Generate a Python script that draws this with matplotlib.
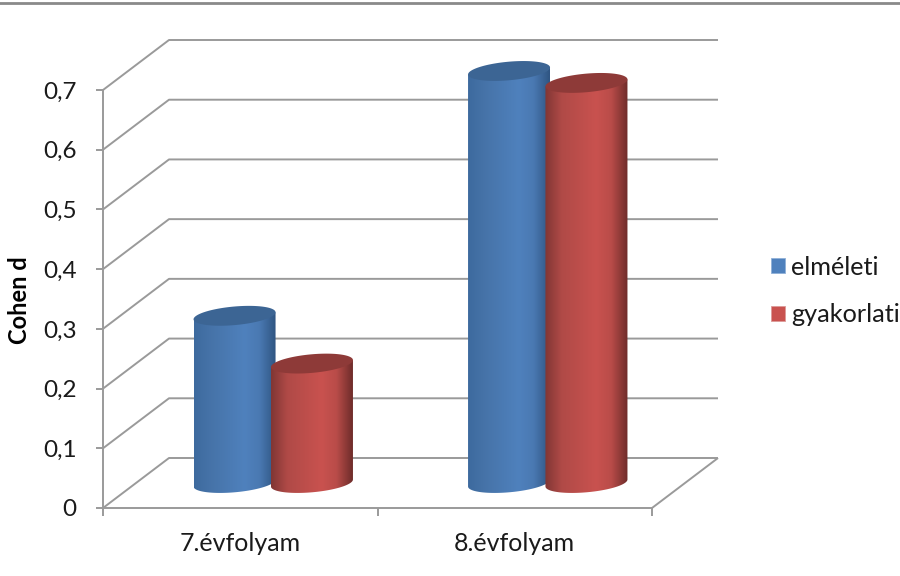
#! /usr/bin/env python3
import numpy as np
import matplotlib
matplotlib.use("Agg")
import matplotlib.pyplot as plt
from matplotlib.colors import LinearSegmentedColormap
from matplotlib.lines import Line2D
from matplotlib.patches import Patch, PathPatch, Polygon
from matplotlib.path import Path

categories = ["7.évfolyam", "8.évfolyam"]
series_names = ["elméleti", "gyakorlati"]
elmeleti = [0.28, 0.69]
gyakorlati = [0.20, 0.67]
y_ticks = [0, 0.1, 0.2, 0.3, 0.4, 0.5, 0.6, 0.7]
y_tick_labels = ["0", "0,1", "0,2", "0,3", "0,4", "0,5", "0,6", "0,7"]

GRID = "#9a9a9a"
TEXT = "#1a1a1a"
BLUE = ["#3d6a9e", "#4673a8", "#4f81bd", "#4a79b2", "#2f5582"]
BLUE_CAP = "#3c6594"
RED = ["#803634", "#b04a47", "#c9524f", "#b94c49", "#6e2c2a"]
RED_CAP = "#8e3a38"
LINE_W = 1.4

plt.rcParams["font.family"] = ["Lato", "DejaVu Sans"]

# front plane of the 3D box, in figure pixels
W, H = 900, 576
LEFT, RIGHT, BOTTOM, TOP = 103, 652, 508, 90
x_per_px = 2 / (RIGHT - LEFT)
y_per_px = 0.7 / (BOTTOM - TOP)
DEPTH_X = 66 * x_per_px
DEPTH_Y = 50 * y_per_px

fig = plt.figure(figsize=(W / 100, H / 100), dpi=100, facecolor="white")
ax = fig.add_axes([LEFT / W, 1 - BOTTOM / H, (RIGHT - LEFT) / W, (BOTTOM - TOP) / H])
ax.patch.set_visible(False)

# rule across the top of the page
fig.add_artist(Line2D([0, 1], [1 - 3 / H, 1 - 3 / H], color="#8a8a8a", lw=2.0))


def box_line(xs, ys):
    ax.plot(xs, ys, color=GRID, lw=LINE_W, clip_on=False, zorder=1, solid_capstyle="butt")


# back wall lines and the diagonals on the side wall
for val in y_ticks:
    box_line([0, DEPTH_X, 2 + DEPTH_X], [val, val + DEPTH_Y, val + DEPTH_Y])
box_line([2, 2 + DEPTH_X], [0, DEPTH_Y])


def cylinder(cx, val, colors, cap_color, z):
    half_w = 41 * x_per_px
    minor = 9.3 * y_per_px
    skew = 3.5 * y_per_px
    base = DEPTH_Y / 2
    t = np.linspace(0, np.pi, 60)

    # body outline: rim on top, then the lower half of the base ellipse
    top_x = cx + half_w * np.cos(t)
    top_y = val + base + skew * np.cos(t)
    bot_x = cx + half_w * np.cos(t[::-1])
    bot_y = base + skew * np.cos(t[::-1]) - minor * np.sin(t[::-1])
    verts = np.column_stack([np.r_[top_x, bot_x], np.r_[top_y, bot_y]])
    body = Polygon(verts, closed=True, fc="none", ec="none", zorder=z, clip_on=False)
    ax.add_patch(body)

    cmap = LinearSegmentedColormap.from_list("cyl", list(zip([0, 0.2, 0.62, 0.8, 1], colors)))
    grad = np.linspace(0, 1, 256).reshape(1, -1)
    im = ax.imshow(grad, cmap=cmap, aspect="auto", zorder=z,
                   extent=[cx - half_w, cx + half_w, 0, val + base + 2 * minor])
    im.set_clip_path(body)
    im.set_clip_box(fig.bbox)

    # top cap
    t = np.linspace(0, 2 * np.pi, 120)
    cap_x = cx + half_w * np.cos(t)
    cap_y = val + base + skew * np.cos(t) + minor * np.sin(t)
    codes = [Path.MOVETO] + [Path.LINETO] * (len(t) - 2) + [Path.CLOSEPOLY]
    ax.add_patch(PathPatch(Path(np.column_stack([cap_x, cap_y]), codes),
                           fc=cap_color, ec="none", zorder=z + 0.1, clip_on=False))


centers = np.arange(len(categories)) + 0.5 + DEPTH_X / 2
offset = 0.141
for i in range(len(categories)):
    cylinder(centers[i] - offset, elmeleti[i], BLUE, BLUE_CAP, 3 + i)
    cylinder(centers[i] + offset, gyakorlati[i], RED, RED_CAP, 3.5 + i)

ax.set_xlim(0, 2)
ax.set_ylim(0, 0.7)

for side in ["top", "right"]:
    ax.spines[side].set_visible(False)
for side in ["left", "bottom"]:
    ax.spines[side].set_color(GRID)
    ax.spines[side].set_linewidth(LINE_W)

ax.set_yticks(y_ticks)
ax.set_yticklabels(y_tick_labels, fontsize=17.5, color=TEXT)
ax.tick_params(axis="y", length=5, width=LINE_W, color=GRID, pad=14)
ax.set_xticks([0, 1, 2])
ax.set_xticklabels([])
ax.set_xticks([0.5, 1.5], labels=categories, minor=True, fontsize=18, color=TEXT)
ax.tick_params(axis="x", which="major", length=6, width=LINE_W, color=GRID)
ax.tick_params(axis="x", which="minor", length=0, pad=17)

fig.text(20 / W, 1 - 300 / H, "Cohen d", rotation=90, fontsize=17, fontweight="bold",
         color="black", ha="center", va="center")

handles = [Patch(fc=BLUE[2], ec="#8fb0d8", lw=0.6), Patch(fc=RED[2], ec="#dd9a98", lw=0.6)]
fig.legend(handles, series_names, loc="center left", bbox_to_anchor=(766 / W, 1 - 291 / H),
           frameon=False, fontsize=18.2, labelcolor=TEXT, handlelength=0.55, handleheight=0.55,
           handletextpad=0.24, labelspacing=0.98, borderpad=0.2, borderaxespad=0)

fig.savefig("out.png", dpi=100)
